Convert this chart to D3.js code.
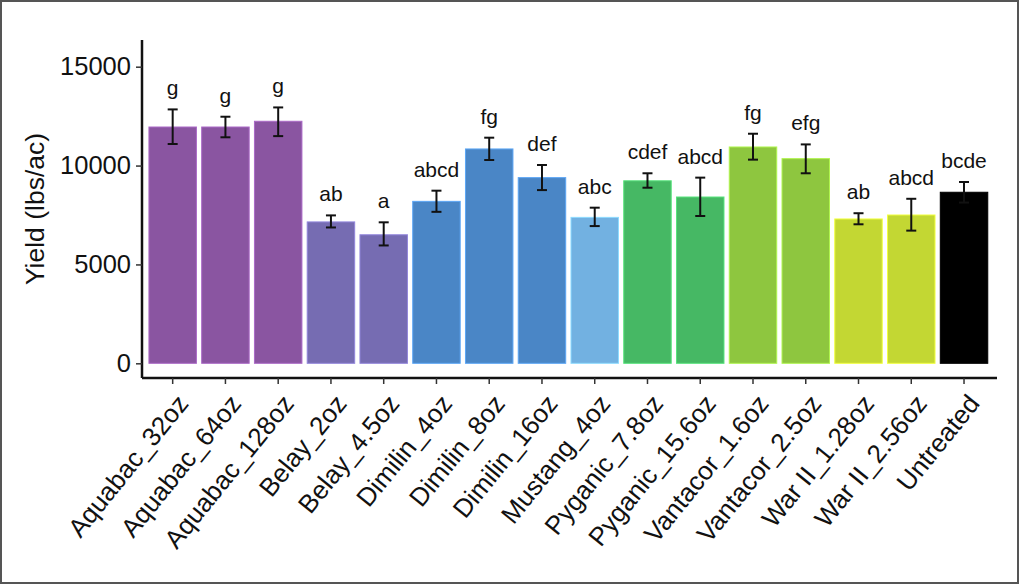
<!DOCTYPE html>
<html>
<head>
<meta charset="utf-8">
<script src="https://cdn.jsdelivr.net/npm/d3@7"></script>
<style>
  body { margin: 0; background: #fff; }
  svg text { font-family: "Liberation Sans", Arial, sans-serif; fill: #111; }
</style>
</head>
<body>
<svg id="chart"></svg>
<script>
// treatments, mean yield, error bar bounds, significance letters
const treatments = ["Aquabac_32oz", "Aquabac_64oz", "Aquabac_128oz", "Belay_2oz", "Belay_4.5oz",
  "Dimilin_4oz", "Dimilin_8oz", "Dimilin_16oz", "Mustang_4oz", "Pyganic_7.8oz", "Pyganic_15.6oz",
  "Vantacor_1.6oz", "Vantacor_2.5oz", "War II_1.28oz", "War II_2.56oz", "Untreated"];
const yieldMean = [11950, 11950, 12240, 7150, 6500, 8190, 10840, 9390, 7380, 9230, 8410, 10940, 10350, 7300, 7500, 8650];
const errHigh = [12840, 12470, 12940, 7480, 7130, 8730, 11410, 10030, 7870, 9610, 9390, 11610, 11070, 7590, 8320, 9170];
const errLow = [11090, 11430, 11490, 6870, 5960, 7660, 10280, 8760, 6940, 8880, 7450, 10300, 9610, 7030, 6710, 8130];
const letters = ["g", "g", "g", "ab", "a", "abcd", "fg", "def", "abc", "cdef", "abcd", "fg", "efg", "ab", "abcd", "bcde"];
const groups = ["Aquabac", "Aquabac", "Aquabac", "Belay", "Belay", "Dimilin", "Dimilin", "Dimilin", "Mustang",
  "Pyganic", "Pyganic", "Vantacor", "Vantacor", "War II", "War II", "Untreated"];
const groupNames = ["Aquabac", "Belay", "Dimilin", "Mustang", "Pyganic", "Vantacor", "War II", "Untreated"];
const groupColors = ["#8a55a1", "#766cb2", "#4a86c6", "#72b1e1", "#46b864", "#8ec63f", "#c3d733", "#000000"];
const yTicks = [0, 5000, 10000, 15000];

const data = treatments.map((t, i) => ({
  name: t, mean: yieldMean[i], hi: errHigh[i], lo: errLow[i], letter: letters[i], group: groups[i]
}));

const width = 1020, height = 585;
const svg = d3.select("#chart").attr("width", width).attr("height", height);

// outer frame
svg.append("rect")
    .attr("x", 1).attr("y", 1)
    .attr("width", width - 3).attr("height", height - 3)
    .attr("fill", "#fff")
    .attr("stroke", "#555")
    .attr("stroke-width", 2);

const plot = { left: 142, right: 997, top: 40, bottom: 378 };

const x = d3.scaleBand()
    .domain(treatments)
    .range([plot.left + 4.3, plot.right - 6.6])
    .paddingInner(0.1)
    .paddingOuter(0.05);

const y = d3.scaleLinear()
    .domain([-743, 16350])
    .range([plot.bottom, plot.top]);

const color = d3.scaleOrdinal().domain(groupNames).range(groupColors);

// bars
svg.append("g")
  .selectAll("rect")
  .data(data)
  .join("rect")
    .attr("x", d => x(d.name))
    .attr("y", d => y(d.mean))
    .attr("width", x.bandwidth())
    .attr("height", d => y(0) - y(d.mean))
    .attr("fill", d => color(d.group))
    .attr("stroke", d => d3.color(color(d.group)).brighter(0.6))
    .attr("stroke-width", 1);

// error bars
const eb = svg.append("g")
  .selectAll("g")
  .data(data)
  .join("g")
    .attr("transform", d => `translate(${x(d.name) + x.bandwidth() / 2},0)`)
    .attr("stroke", "#111")
    .attr("stroke-width", 2);
eb.append("line").attr("y1", d => y(d.hi)).attr("y2", d => y(d.lo));
eb.append("line").attr("x1", -5).attr("x2", 5).attr("y1", d => y(d.hi)).attr("y2", d => y(d.hi));
eb.append("line").attr("x1", -5).attr("x2", 5).attr("y1", d => y(d.lo)).attr("y2", d => y(d.lo));

// significance letters
svg.append("g")
  .selectAll("text")
  .data(data)
  .join("text")
    .attr("x", d => x(d.name) + x.bandwidth() / 2)
    .attr("y", d => y(d.hi) - 14)
    .attr("text-anchor", "middle")
    .attr("font-size", 21)
    .text(d => d.letter);

// y axis
const yAxis = svg.append("g")
    .attr("transform", `translate(${plot.left},0)`)
    .call(d3.axisLeft(y).tickValues(yTicks).tickSize(6).tickPadding(5).tickFormat(d3.format("d")));
yAxis.select(".domain").attr("d", `M0,${plot.top}V${plot.bottom}`).attr("stroke", "#111").attr("stroke-width", 2.5);
yAxis.selectAll(".tick line").attr("stroke", "#333").attr("stroke-width", 1.5);
yAxis.selectAll(".tick text").attr("font-size", 25.5).attr("fill", "#111")
    .attr("font-family", "Liberation Sans, Arial, sans-serif");

// x axis
const xAxis = svg.append("g")
    .attr("transform", `translate(0,${plot.bottom})`)
    .call(d3.axisBottom(x).tickSize(6).tickSizeOuter(0));
xAxis.select(".domain").attr("d", `M${plot.left},0H${plot.right}`).attr("stroke", "#111").attr("stroke-width", 2.5);
xAxis.selectAll(".tick line").attr("stroke", "#333").attr("stroke-width", 1.5);
xAxis.selectAll(".tick text")
    .attr("font-size", 26)
    .attr("fill", "#111")
    .attr("font-family", "Liberation Sans, Arial, sans-serif")
    .attr("text-anchor", "end")
    .attr("dy", null)
    .attr("y", 0)
    .attr("transform", "translate(2,14) rotate(-51)")
    .attr("dominant-baseline", "hanging");

// y axis title
svg.append("text")
    .attr("transform", `translate(44,${(plot.top + plot.bottom) / 2}) rotate(-90)`)
    .attr("text-anchor", "middle")
    .attr("font-size", 26.5)
    .text("Yield (lbs/ac)");
</script>
</body>
</html>
